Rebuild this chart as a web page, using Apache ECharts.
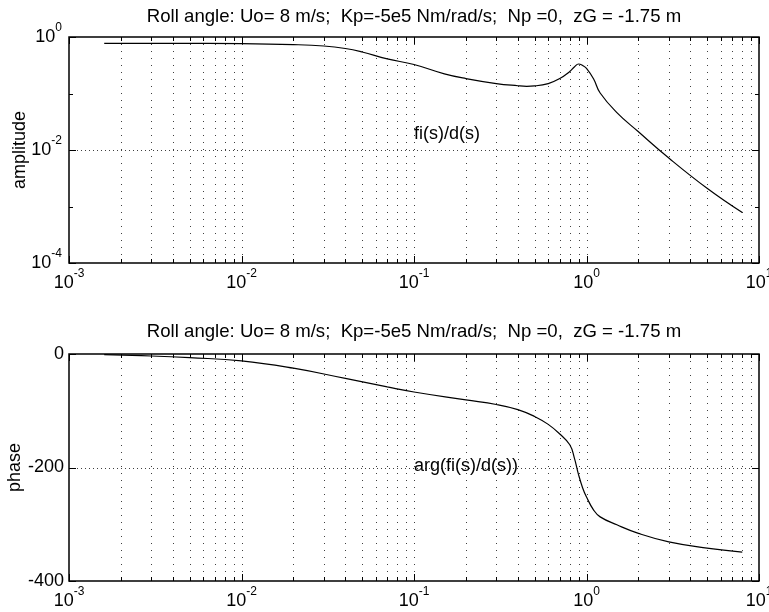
<!DOCTYPE html>
<html><head><meta charset="utf-8">
<script src="https://cdn.jsdelivr.net/npm/echarts@6.0.0/dist/echarts.min.js"></script>
<style>html,body{margin:0;padding:0;background:#fff}#c{width:769px;height:612px}</style>
</head><body><div id="c"></div>
<script>
const titleText = 'Roll angle: Uo= 8 m/s;  Kp=-5e5 Nm/rad/s;  Np =0,  zG = -1.75 m';
const ampName = 'amplitude';
const phaseName = 'phase';
const ampNote = 'fi(s)/d(s)';
const phaseNote = 'arg(fi(s)/d(s))';
const ampNotePos = [0.1, 0.019];
const phaseNotePos = [0.1, -197];

const ampFreq = [0.0016, 0.004, 0.01, 0.02, 0.03, 0.04, 0.05, 0.07, 0.1, 0.15, 0.2, 0.3, 0.4, 0.45, 0.5, 0.6, 0.7, 0.8, 0.85, 0.9, 0.95, 1.0, 1.1, 1.2, 1.5, 2, 3, 5, 8];
const amplitude = [0.774, 0.774, 0.764, 0.734, 0.693, 0.626, 0.543, 0.41, 0.326, 0.223, 0.184, 0.150, 0.137, 0.134, 0.136, 0.150, 0.184, 0.245, 0.294, 0.333, 0.313, 0.279, 0.181, 0.102, 0.046, 0.021, 0.0072, 0.0021, 0.00078];

const phaseFreq = [0.0016, 0.003, 0.005, 0.01, 0.02, 0.04, 0.07, 0.1, 0.2, 0.3, 0.4, 0.5, 0.6, 0.7, 0.8, 0.85, 0.9, 0.95, 1.0, 1.1, 1.2, 1.5, 2, 3, 5, 8];
const phase = [-1, -3.5, -6.5, -12, -25, -43, -58, -67, -81, -89, -98, -110, -124, -141, -160, -183, -213, -236, -252, -275, -287, -301, -316, -331, -342, -349];

const xTicks = [0.001,0.002,0.003,0.004,0.005,0.006,0.007,0.008,0.009,
                0.01,0.02,0.03,0.04,0.05,0.06,0.07,0.08,0.09,
                0.1,0.2,0.3,0.4,0.5,0.6,0.7,0.8,0.9,
                1,2,3,4,5,6,7,8,9,10];
const ampTicks = [1, 0.1, 0.01, 0.001, 0.0001];
const ampLabeledTicks = [1, 0.01, 0.0001];
const phaseTicks = [0, -200, -400];

const FONT = 'Liberation Sans, Arial, Helvetica, sans-serif';
const X_MIN = 0.001, X_MAX = 10;
const AMP_MIN = 0.0001, AMP_MAX = 1;
const PH_MIN = -400, PH_MAX = 0;

function isDecade(v) { const e = Math.log10(v); return Math.abs(e - Math.round(e)) < 1e-9; }
function crisp(v) { return Math.round(v) + 0.5; }

function xGridRender(yMin, yMax) {
  return function (params, api) {
    const x = api.value(0);
    const top = api.coord([x, yMax]);
    const bot = api.coord([x, yMin]);
    const px = crisp(top[0]);
    const len = isDecade(x) ? 7 : 4;
    const children = [];
    const edge = Math.abs(x - X_MIN) < 1e-12 || Math.abs(x - X_MAX) < 1e-9;
    if (!edge) {
      children.push({type: 'line', shape: {x1: px, y1: top[1], x2: px, y2: bot[1]},
        style: {stroke: '#000', lineWidth: 1, lineDash: [1, 6], opacity: 0.75}});
    }
    children.push({type: 'line', shape: {x1: px, y1: bot[1], x2: px, y2: bot[1] - len}, style: {stroke: '#000', lineWidth: 1}});
    children.push({type: 'line', shape: {x1: px, y1: top[1], x2: px, y2: top[1] + len}, style: {stroke: '#000', lineWidth: 1}});
    return {type: 'group', children};
  };
}
function yGridRender(labeled, yMin, yMax) {
  return function (params, api) {
    const y = api.value(1);
    const l = api.coord([X_MIN, y]);
    const r = api.coord([X_MAX, y]);
    const py = crisp(l[1]);
    const major = labeled.indexOf(y) >= 0;
    const len = major ? 7 : 4;
    const children = [];
    if (major && y !== yMin && y !== yMax) {
      children.push({type: 'line', shape: {x1: l[0], y1: py, x2: r[0], y2: py},
        style: {stroke: '#000', lineWidth: 1, lineDash: [1, 3], opacity: 0.75}});
    }
    children.push({type: 'line', shape: {x1: l[0], y1: py, x2: l[0] + len, y2: py}, style: {stroke: '#000', lineWidth: 1}});
    children.push({type: 'line', shape: {x1: r[0], y1: py, x2: r[0] - len, y2: py}, style: {stroke: '#000', lineWidth: 1}});
    return {type: 'group', children};
  };
}
function noteRender(text) {
  return function (params, api) {
    const p = api.coord([api.value(0), api.value(1)]);
    return {type: 'text', x: p[0], y: p[1],
      style: {text: text, fill: '#000', fontSize: 18, fontFamily: FONT, align: 'left', verticalAlign: 'middle'}};
  };
}

const powRich = {
  b: {fontSize: 18, fontFamily: FONT, color: '#000'},
  s: {fontSize: 12, fontFamily: FONT, color: '#000', padding: [0, 0, 18, 0]}
};
function powLabel(v) {
  const e = Math.round(Math.log10(v));
  return '{b|10}{s|' + e + '}';
}

const chart = echarts.init(document.getElementById('c'), null, {renderer: 'canvas'});

const xAxisBase = {
  type: 'log', logBase: 10, min: X_MIN, max: X_MAX,
  axisLine: {show: false}, axisTick: {show: false}, splitLine: {show: false},
  axisLabel: {show: true, formatter: powLabel, rich: powRich, margin: 5, showMinLabel: true, showMaxLabel: true, hideOverlap: false}
};

chart.setOption({
  animation: false,
  backgroundColor: '#fff',
  textStyle: {fontFamily: FONT},
  title: [
    {text: titleText, left: 414, top: 7, textAlign: 'center', padding: 0,
     textStyle: {fontSize: 18.6, fontWeight: 'normal', color: '#000', fontFamily: FONT}},
    {text: titleText, left: 414, top: 322, textAlign: 'center', padding: 0,
     textStyle: {fontSize: 18.6, fontWeight: 'normal', color: '#000', fontFamily: FONT}}
  ],
  grid: [
    {left: 69, top: 37, width: 690, height: 226, show: true, borderColor: '#000', borderWidth: 1.5, backgroundColor: '#fff', containLabel: false, outerBoundsMode: 'none'},
    {left: 69, top: 354, width: 690, height: 227, show: true, borderColor: '#000', borderWidth: 1.5, backgroundColor: '#fff', containLabel: false, outerBoundsMode: 'none'}
  ],
  xAxis: [
    Object.assign({gridIndex: 0}, xAxisBase),
    Object.assign({gridIndex: 1}, xAxisBase)
  ],
  yAxis: [
    {gridIndex: 0, type: 'log', logBase: 10, min: AMP_MIN, max: AMP_MAX,
     axisLine: {show: false}, axisTick: {show: false}, splitLine: {show: false},
     axisLabel: {formatter: function (v) { const e = Math.round(Math.log10(v)); return (e % 2 === 0) ? powLabel(v) : ''; },
                 rich: powRich, margin: 7, showMinLabel: true, showMaxLabel: true, hideOverlap: false},
     name: ampName, nameLocation: 'middle', nameGap: 40, nameRotate: 90, nameMoveOverlap: false,
     nameTextStyle: {fontSize: 18, color: '#000', fontFamily: FONT}},
    {gridIndex: 1, type: 'value', min: PH_MIN, max: PH_MAX, interval: 200,
     axisLine: {show: false}, axisTick: {show: false}, splitLine: {show: false},
     axisLabel: {fontSize: 18, color: '#000', fontFamily: FONT, margin: 5, showMinLabel: true, showMaxLabel: true, hideOverlap: false},
     name: phaseName, nameLocation: 'middle', nameGap: 45, nameRotate: 90, nameMoveOverlap: false,
     nameTextStyle: {fontSize: 18, color: '#000', fontFamily: FONT}}
  ],
  series: [
    {type: 'custom', xAxisIndex: 0, yAxisIndex: 0, clip: false, silent: true, z: 1,
     renderItem: xGridRender(AMP_MIN, AMP_MAX), data: xTicks.map(v => [v, AMP_MIN])},
    {type: 'custom', xAxisIndex: 0, yAxisIndex: 0, clip: false, silent: true, z: 1,
     renderItem: yGridRender(ampLabeledTicks, AMP_MIN, AMP_MAX), data: ampTicks.map(v => [X_MIN, v])},
    {type: 'custom', xAxisIndex: 1, yAxisIndex: 1, clip: false, silent: true, z: 1,
     renderItem: xGridRender(PH_MIN, PH_MAX), data: xTicks.map(v => [v, PH_MIN])},
    {type: 'custom', xAxisIndex: 1, yAxisIndex: 1, clip: false, silent: true, z: 1,
     renderItem: yGridRender(phaseTicks, PH_MIN, PH_MAX), data: phaseTicks.map(v => [X_MIN, v])},
    {type: 'line', xAxisIndex: 0, yAxisIndex: 0, z: 3, smooth: 0.45, symbol: 'none', showSymbol: false,
     lineStyle: {color: '#000', width: 1.2}, data: ampFreq.map((f, i) => [f, amplitude[i]])},
    {type: 'line', xAxisIndex: 1, yAxisIndex: 1, z: 3, smooth: 0.45, symbol: 'none', showSymbol: false,
     lineStyle: {color: '#000', width: 1.2}, data: phaseFreq.map((f, i) => [f, phase[i]])},
    {type: 'custom', xAxisIndex: 0, yAxisIndex: 0, clip: false, silent: true, z: 4,
     renderItem: noteRender(ampNote), data: [ampNotePos]},
    {type: 'custom', xAxisIndex: 1, yAxisIndex: 1, clip: false, silent: true, z: 4,
     renderItem: noteRender(phaseNote), data: [phaseNotePos]}
  ]
});
</script>
</body></html>
